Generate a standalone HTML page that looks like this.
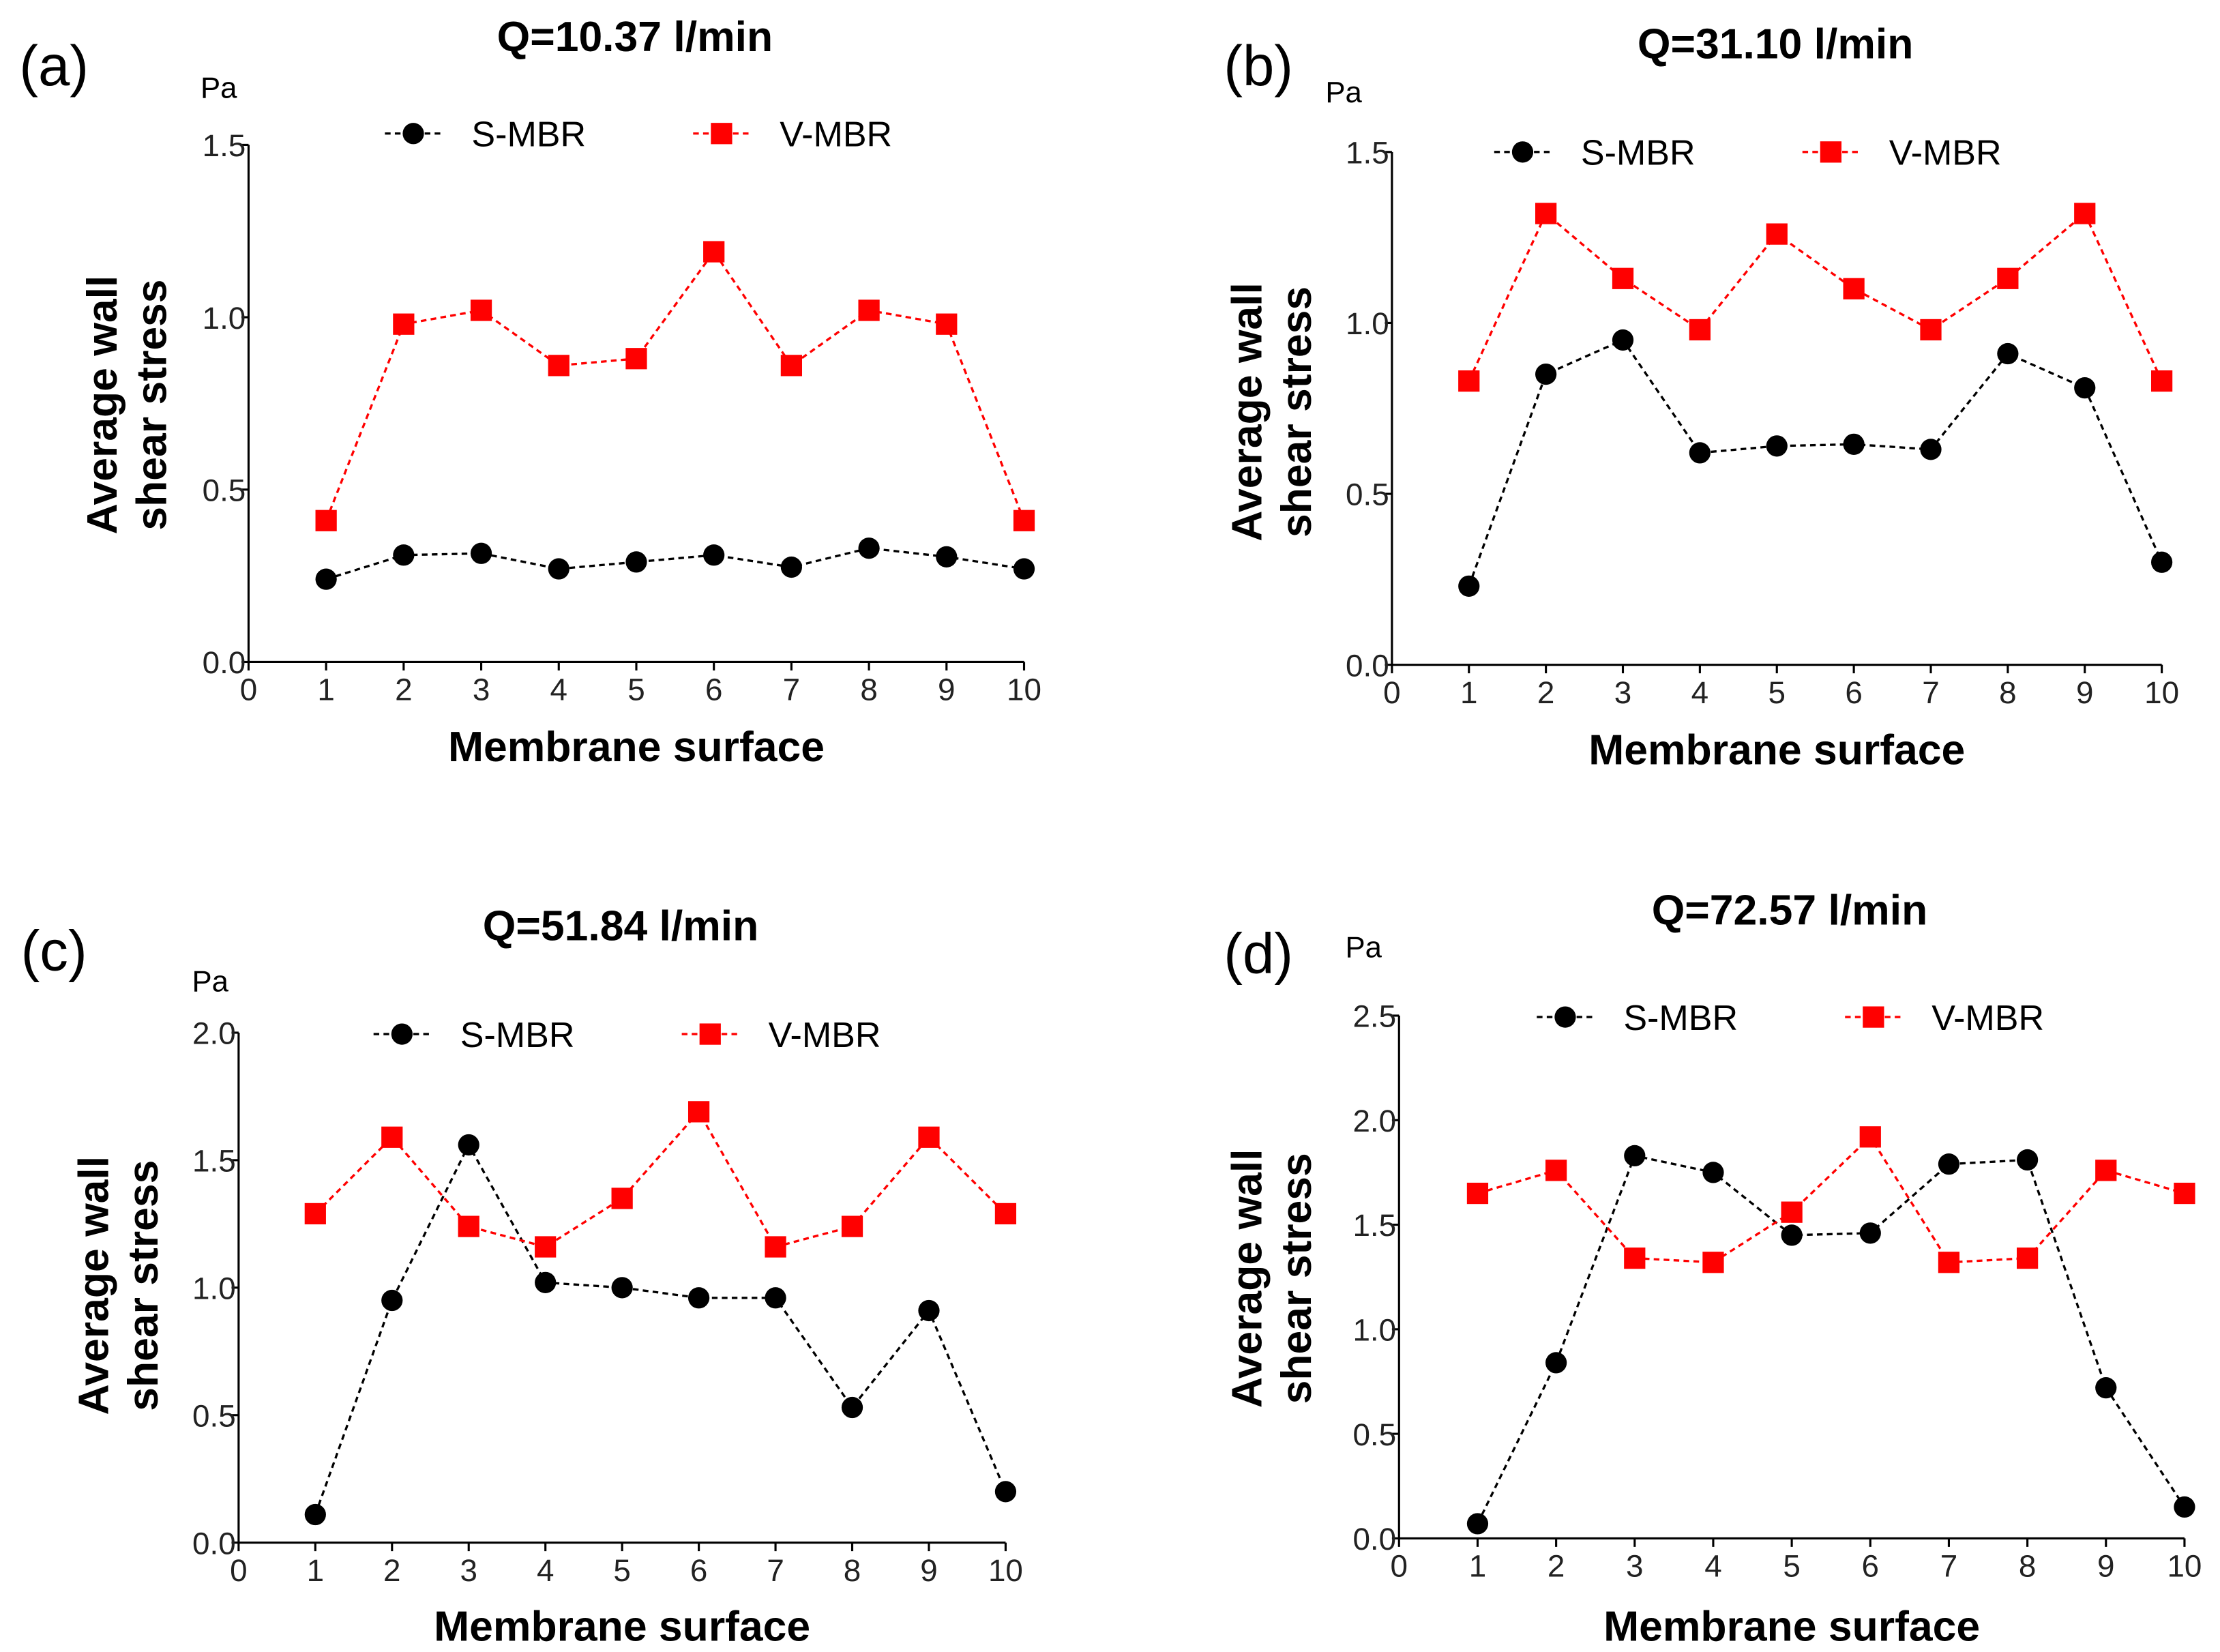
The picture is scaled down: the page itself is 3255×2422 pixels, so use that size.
<!DOCTYPE html>
<html><head><meta charset="utf-8"><style>
html,body{margin:0;padding:0;background:#fff}
svg{display:block}
text{font-family:"Liberation Sans",Arial,sans-serif}
</style></head><body>
<svg id="fig" width="3255" height="2422" viewBox="0 0 1563 1163" xmlns="http://www.w3.org/2000/svg"></svg>
<script>
const xCats=[1,2,3,4,5,6,7,8,9,10];
const xTicks=[0,1,2,3,4,5,6,7,8,9,10];
const sA=[0.24,0.31,0.315,0.27,0.29,0.31,0.275,0.33,0.305,0.27];
const vA=[0.41,0.98,1.02,0.86,0.88,1.19,0.86,1.02,0.98,0.41];
const sB=[0.23,0.85,0.95,0.62,0.64,0.645,0.63,0.91,0.81,0.30];
const vB=[0.83,1.32,1.13,0.98,1.26,1.10,0.98,1.13,1.32,0.83];
const sC=[0.11,0.95,1.56,1.02,1.0,0.96,0.96,0.53,0.91,0.20];
const vC=[1.29,1.59,1.24,1.16,1.35,1.69,1.16,1.24,1.59,1.29];
const sD=[0.07,0.84,1.83,1.75,1.45,1.46,1.79,1.81,0.72,0.15];
const vD=[1.65,1.76,1.34,1.32,1.56,1.92,1.32,1.34,1.76,1.65];
const ticksAB=["0.0","0.5","1.0","1.5"];
const ticksC=["0.0","0.5","1.0","1.5","2.0"];
const ticksD=["0.0","0.5","1.0","1.5","2.0","2.5"];
const titles=["Q=10.37 l/min","Q=31.10 l/min","Q=51.84 l/min","Q=72.57 l/min"];

const NS="http://www.w3.org/2000/svg";
const svg=document.getElementById('fig');
function mk(tag,attrs,parent,txt){const e=document.createElementNS(NS,tag);for(const k in attrs)e.setAttribute(k,attrs[k]);if(txt!==undefined)e.textContent=txt;(parent||svg).appendChild(e);return e;}

const panels=[
 {id:'a',x0:175,x10:721,y0:466,yTop:102,ymax:1.5,yt:ticksAB,s:sA,v:vA,lab:'(a)',lx:38,ly:60,pa:[154,69],tt:[447,36],leg:[291,94],xl:536,yl:[82,117],yc:285},
 {id:'b',x0:980,x10:1522,y0:468,yTop:107,ymax:1.5,yt:ticksAB,s:sB,v:vB,lab:'(b)',lx:886,ly:60,pa:[946,72],tt:[1250,41],leg:[1072,107],xl:538,yl:[888,923],yc:290},
 {id:'c',x0:168,x10:708,y0:1086,yTop:727,ymax:2.0,yt:ticksC,s:sC,v:vC,lab:'(c)',lx:38,ly:683,pa:[148,698],tt:[437,662],leg:[283,728],xl:1155,yl:[76,111],yc:905},
 {id:'d',x0:985,x10:1538,y0:1083,yTop:715,ymax:2.5,yt:ticksD,s:sD,v:vD,lab:'(d)',lx:886,ly:685,pa:[960,674],tt:[1260,651],leg:[1102,716],xl:1155,yl:[888,923],yc:900}
];
panels.forEach((p,i)=>{
  const g=mk('g',{});
  
  
  const X=v=>p.x0+(p.x10-p.x0)*v/10;
  const Y=v=>p.y0-(p.y0-p.yTop)*v/p.ymax;
  const ax=mk('path',{d:`M${p.x0},${p.yTop}V${p.y0}H${p.x10}`,stroke:'#000','stroke-width':1.5,fill:'none'},g);
  
  
  p.yt.forEach(t=>{const v=parseFloat(t);
    mk('line',{x1:p.x0-5,x2:p.x0,y1:Y(v),y2:Y(v),stroke:'#000','stroke-width':1.5},g);
    const tl=mk('text',{x:p.x0-2,y:Y(v)+8,'font-size':22,'text-anchor':'end',fill:'#222'},g,t);
    
    
  });
  xTicks.forEach(t=>{
    mk('line',{x1:X(t),x2:X(t),y1:p.y0,y2:p.y0+6,stroke:'#000','stroke-width':1.5},g);
    const tl=mk('text',{x:X(t),y:p.y0+27,'font-size':22,'text-anchor':'middle',fill:'#222'},g,String(t));
    
    
  });
  const lab=mk('text',{x:p.lx,y:p.ly,'font-size':40,'text-anchor':'middle'},g,p.lab);
  
  
  const pa=mk('text',{x:p.pa[0],y:p.pa[1],'font-size':21,'text-anchor':'middle'},g,'Pa');
  
  
  const tt=mk('text',{x:p.tt[0],y:p.tt[1],'font-size':30,'font-weight':'bold','text-anchor':'middle'},g,titles[i]);
  
  
  const xl=mk('text',{x:(p.x0+p.x10)/2,y:p.xl,'font-size':30,'font-weight':'bold','text-anchor':'middle'},g,'Membrane surface');
  
  
  const yl1=mk('text',{transform:`translate(${p.yl[0]},${p.yc}) rotate(-90)`,'font-size':30,'font-weight':'bold','text-anchor':'middle'},g,'Average wall');
  
  
  const yl2=mk('text',{transform:`translate(${p.yl[1]},${p.yc}) rotate(-90)`,'font-size':30,'font-weight':'bold','text-anchor':'middle'},g,'shear stress');
  
  
  const sl=mk('polyline',{points:p.s.map((v,k)=>X(xCats[k])+','+Y(v)).join(' '),fill:'none',stroke:'#000','stroke-width':1.6,'stroke-dasharray':'4,3'},g);
  
  
  const vl=mk('polyline',{points:p.v.map((v,k)=>X(xCats[k])+','+Y(v)).join(' '),fill:'none',stroke:'#f00','stroke-width':1.6,'stroke-dasharray':'4,3'},g);
  
  
  p.s.forEach((v,k)=>{const c=mk('circle',{cx:X(xCats[k]),cy:Y(v),r:7.5,fill:'#000'},g);
    
    });
  p.v.forEach((v,k)=>{const r=mk('rect',{x:X(xCats[k])-7.5,y:Y(v)-7.5,width:15,height:15,fill:'#f00'},g);
    
    });
  const [lx,ly]=p.leg;
  const lg=mk('g',{},g);
  
  
  mk('line',{x1:lx-20,x2:lx+20,y1:ly,y2:ly,stroke:'#000','stroke-width':1.6,'stroke-dasharray':'4,3'},lg);
  mk('circle',{cx:lx,cy:ly,r:7.5,fill:'#000'},lg);
  const t1=mk('text',{x:lx+41,y:ly+9,'font-size':25},lg,'S-MBR');
  
  
  const vx=lx+217;
  mk('line',{x1:vx-20,x2:vx+20,y1:ly,y2:ly,stroke:'#f00','stroke-width':1.6,'stroke-dasharray':'4,3'},lg);
  mk('rect',{x:vx-7.5,y:ly-7.5,width:15,height:15,fill:'#f00'},lg);
  const t2=mk('text',{x:vx+41,y:ly+9,'font-size':25},lg,'V-MBR');
  
  
});
</script>
</body></html>
